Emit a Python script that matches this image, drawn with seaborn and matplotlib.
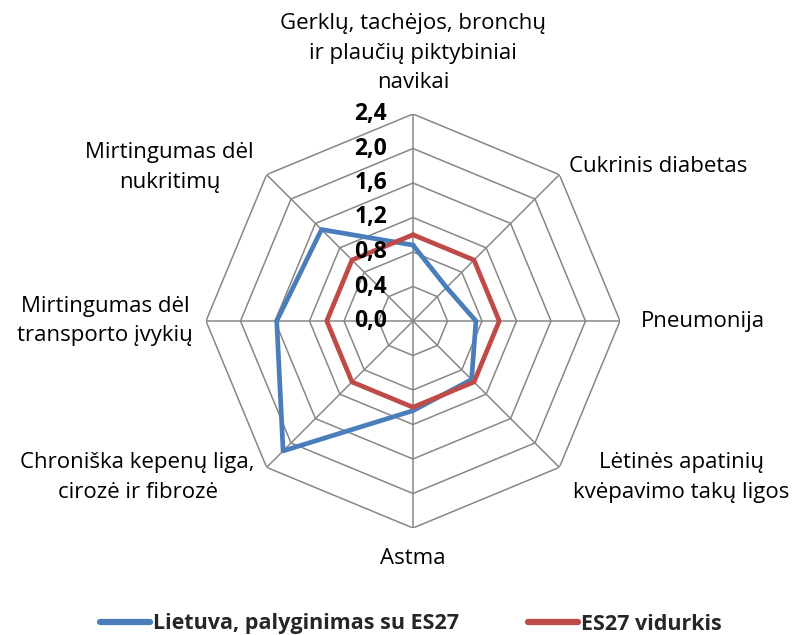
import numpy as np
import pandas as pd
import matplotlib
matplotlib.use("Agg")
import matplotlib.pyplot as plt
import seaborn as sns
from matplotlib.lines import Line2D

# ---------------- data ----------------
categories = [
    "Gerklų, tachėjos, bronchų\nir plaučių piktybiniai\nnavikai",
    "Cukrinis diabetas",
    "Pneumonija",
    "Lėtinės apatinių\nkvėpavimo takų ligos",
    "Astma",
    "Chroniška kepenų liga,\ncirozė ir fibrozė",
    "Mirtingumas dėl\ntransporto įvykių",
    "Mirtingumas dėl\nnukritimų",
]
lietuva = [0.88, 0.55, 0.73, 0.96, 1.04, 2.13, 1.58, 1.50]
es27 = [1.0, 1.0, 1.0, 1.0, 1.0, 1.0, 1.0, 1.0]
series_names = ["Lietuva, palyginimas su ES27", "ES27 vidurkis"]
r_ticks = [0.0, 0.4, 0.8, 1.2, 1.6, 2.0, 2.4]
r_tick_labels = ["0,0", "0,4", "0,8", "1,2", "1,6", "2,0", "2,4"]

colors = {"Lietuva, palyginimas su ES27": "#4A7EBB", "ES27 vidurkis": "#BE4B48"}
grid_color = "#878787"

sns.set_theme(style="white")
plt.rcParams["font.family"] = ["Open Sans", "DejaVu Sans"]

n = len(categories)
angles = np.linspace(0, 2 * np.pi, n, endpoint=False)
angles_closed = np.append(angles, 2 * np.pi)

rows = []
for name, vals in zip(series_names, [lietuva, es27]):
    closed = list(vals) + [vals[0]]
    for th, v in zip(angles_closed, closed):
        rows.append({"theta": th, "value": v, "series": name})
df = pd.DataFrame(rows)

W, H = 798, 635
fig = plt.figure(figsize=(W / 100, H / 100), dpi=100)
cx, cy, R = 413, 321, 207
ax = fig.add_axes([(cx - R) / W, (H - cy - R) / H, 2 * R / W, 2 * R / H], projection="polar")
ax.set_theta_zero_location("N")
ax.set_theta_direction(-1)
ax.set_ylim(0, r_ticks[-1])
ax.grid(False)
ax.set_xticks([])
ax.set_yticks([])
ax.spines["polar"].set_visible(False)
ax.set_facecolor("white")

# polygon grid
for r in r_ticks[1:]:
    ax.plot(angles_closed, [r] * len(angles_closed), color=grid_color, lw=1.1, zorder=1)
for th in angles:
    ax.plot([th, th], [0, r_ticks[-1]], color=grid_color, lw=1.1, zorder=1)

sns.lineplot(data=df, x="theta", y="value", hue="series", palette=colors,
             sort=False, estimator=None, units="series", ax=ax, linewidth=3.4,
             legend=False, zorder=3)
for line in ax.lines[-2:]:
    line.set_solid_joinstyle("round")
    line.set_solid_capstyle("round")

# radial tick labels
for r, lab in zip(r_ticks, r_tick_labels):
    ax.annotate(lab, xy=(0, r), xycoords="data", xytext=(-26, 0), textcoords="offset pixels",
                ha="right", va="center", fontsize=16.5, fontweight="bold", color="black", zorder=4)

# category labels
offsets = [(0, 61), (99, 8), (83, -1), (122, -10), (0, -31), (-129, -10), (-101, 0), (-97, 7)]
for th, lab, off in zip(angles, categories, offsets):
    ax.annotate(lab, xy=(th, r_ticks[-1]), xycoords="data", xytext=off, textcoords="offset pixels",
                ha="center", va="center", multialignment="center", fontsize=16,
                linespacing=1.55, color="black", annotation_clip=False)

handles = [Line2D([0], [0], color=colors[s], lw=4.5, solid_capstyle="round") for s in series_names]
fig.legend(handles, series_names, loc="center", bbox_to_anchor=(411 / W, 11 / H), ncol=2,
           frameon=False, prop={"weight": "bold", "size": 15.5}, handlelength=2.3,
           handletextpad=0.15, columnspacing=3.2)

fig.savefig("out.png", dpi=100, facecolor="white")
